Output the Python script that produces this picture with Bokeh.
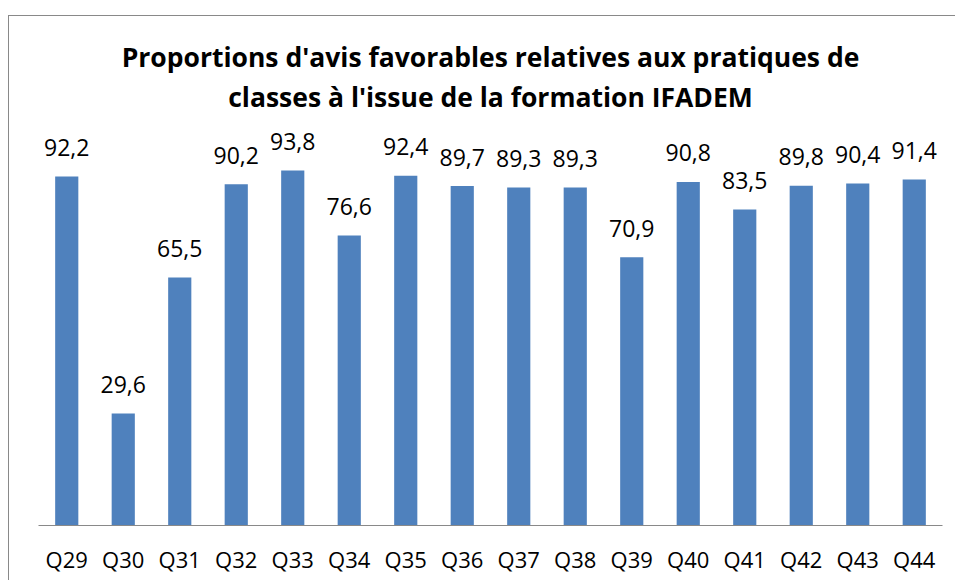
from bokeh.plotting import figure
from bokeh.models import Range1d, Label, ColumnDataSource
from bokeh.embed import file_html
from bokeh.resources import INLINE
from bokeh.core.properties import value

categories = ["Q29", "Q30", "Q31", "Q32", "Q33", "Q34", "Q35", "Q36",
              "Q37", "Q38", "Q39", "Q40", "Q41", "Q42", "Q43", "Q44"]
values = [92.2, 29.6, 65.5, 90.2, 93.8, 76.6, 92.4, 89.7,
          89.3, 89.3, 70.9, 90.8, 83.5, 89.8, 90.4, 91.4]
labels = [f"{v:.1f}".replace(".", ",") for v in values]
title_lines = ["Proportions d'avis favorables relatives aux pratiques de",
               "classes à l'issue de la formation IFADEM"]

FONT = "Open Sans"
BLUE = "#4F81BD"
GRAY = "#898989"

src = ColumnDataSource(dict(cat=categories, val=values, lab=labels))

p = figure(x_range=categories, y_range=Range1d(0, 134.5),
           width=947, height=565, output_backend="svg", toolbar_location=None,
           min_border_left=29, min_border_right=14, min_border_top=0,
           min_border_bottom=56)
p.styles = {"border-top": f"1px solid {GRAY}", "border-left": f"1px solid {GRAY}",
            "margin-top": "15px", "margin-left": "8px"}

p.vbar(x="cat", top="val", width=0.41, source=src, fill_color=BLUE, line_color=None)
p.text(x="cat", y="val", text="lab", source=src, y_offset=-29,
       text_align="center", text_baseline="alphabetic",
       text_font=value(FONT), text_font_size="23px", text_color="black")

for line, yv in zip(title_lines, [123.9, 113.3]):
    p.add_layout(Label(x=8, y=yv, text=line, text_align="center",
                       text_baseline="alphabetic", text_font=FONT,
                       text_font_size="26.5px", text_font_style="bold",
                       text_color="black"))

p.yaxis.visible = False
p.xgrid.visible = False
p.ygrid.visible = False
p.outline_line_color = None
ax = p.xaxis[0]
ax.axis_line_color = GRAY
ax.axis_line_width = 1
ax.major_tick_line_color = None
ax.minor_tick_line_color = None
ax.major_tick_out = 0
ax.major_tick_in = 0
ax.major_label_standoff = 18
ax.major_label_text_font = FONT
ax.major_label_text_font_size = "22px"
ax.major_label_text_color = "black"

open("out.html", "w").write(file_html(p, INLINE))
